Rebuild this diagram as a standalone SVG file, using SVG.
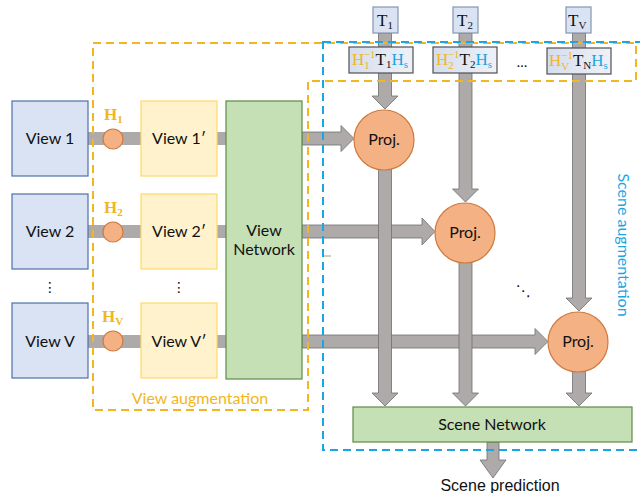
<svg xmlns="http://www.w3.org/2000/svg" width="640" height="493" viewBox="0 0 640 493">
  <defs>
    <linearGradient id="fgrad" x1="0" y1="0" x2="1" y2="0">
      <stop offset="0" stop-color="#D5DDEE"/>
      <stop offset="1" stop-color="#EEF1F7"/>
    </linearGradient>
  </defs>
  <style>
    .lbl { font-family: Lato, "Open Sans", sans-serif; font-size: 16px; fill: #111; text-anchor: middle; }
    .math { font-family: "Liberation Serif", "DejaVu Serif", serif; font-size: 17px; }
    .view { fill: #DAE3F3; stroke: #4F71A8; stroke-width: 1.2; }
    .aug { fill: #FFF2CC; stroke: #FFD966; stroke-width: 1.2; }
    .net { fill: #C5E0B4; stroke: #5E8A48; stroke-width: 1.2; }
    .bar { fill: #AEAAAA; stroke: #6F6F6F; stroke-width: 0.8; }
    .flat { fill: #AEAAAA; }
    .proj { fill: #F4B183; stroke: #CF7A3F; stroke-width: 1.2; }
    .h { fill: #F4B183; stroke: #CF7A3F; stroke-width: 1.2; }
    .tbox { fill: #DAE3F3; stroke: #8497B0; stroke-width: 1.2; }
    .fbox { fill: url(#fgrad); stroke: #505050; stroke-width: 1.2; }
    .gold { fill: #F2B620; }
    .blue { fill: #1AA6E3; }
    .dashY { fill: none; stroke: #F2B620; stroke-width: 2; stroke-dasharray: 8 5; }
    .dashB { fill: none; stroke: #1AA6E3; stroke-width: 2; stroke-dasharray: 8 5; }
  </style>

  <!-- plain bars from each view through the augmentation into the view network -->
  <g id="view-bars">
    <rect class="flat" x="88" y="132" width="140" height="13"/>
    <rect class="flat" x="88" y="225" width="140" height="13"/>
    <rect class="flat" x="88" y="335" width="140" height="13"/>
  </g>

  <!-- connectors: view features to projections, transforms down to projections, projections to scene network -->
  <g id="connectors">
    <polygon class="bar" points="302,132 341,132 341,125.5 354,138.5 341,151.5 341,145 302,145"/>
    <polygon class="bar" points="302,225 422,225 422,218 435,231.5 422,245 422,238 302,238"/>
    <polygon class="bar" points="302,335 535,335 535,328.5 548,341.5 535,354.5 535,348 302,348"/>

    <polygon class="bar" points="378.5,33 391.5,33 391.5,96 398,96 385,109 372,96 378.5,96"/>
    <polygon class="bar" points="459,33 472,33 472,189 478.5,189 465.5,202 452.5,189 459,189"/>
    <polygon class="bar" points="572.5,33 585.5,33 585.5,298 592,298 579,311 566,298 572.5,298"/>

    <polygon class="bar" points="378.5,168 391.5,168 391.5,393 398,393 385,406 372,393 378.5,393"/>
    <polygon class="bar" points="459,262 472,262 472,393 478.5,393 465.5,406 452.5,393 459,393"/>
    <polygon class="bar" points="572.5,371 585.5,371 585.5,393 592,393 579,406 566,393 572.5,393"/>

    <polygon class="bar" points="487,442 499,442 499,460 506,460 493,478 480,460 487,460"/>
    <line x1="324" y1="256" x2="331" y2="256" stroke="#8A8A50" stroke-width="0.8"/>
  </g>

  <g id="view1">
    <rect class="view" x="12" y="101" width="76" height="75"/>
    <text class="lbl" x="50" y="144">View 1</text>
  </g>
  <g id="view2">
    <rect class="view" x="12" y="194" width="76" height="75"/>
    <text class="lbl" x="50" y="237">View 2</text>
  </g>
  <g id="viewV">
    <rect class="view" x="12" y="303" width="76" height="75"/>
    <text class="lbl" x="50" y="347">View V</text>
  </g>
  <text x="50" y="292" font-family="DejaVu Sans, sans-serif" font-size="14" text-anchor="middle" fill="#111">⋮</text>

  <g id="h1">
    <circle class="h" cx="113" cy="139" r="10"/>
    <text class="math gold" x="104" y="120" font-weight="bold">H<tspan font-size="11" dy="3">1</tspan></text>
  </g>
  <g id="h2">
    <circle class="h" cx="113" cy="232" r="10"/>
    <text class="math gold" x="104" y="213" font-weight="bold">H<tspan font-size="11" dy="3">2</tspan></text>
  </g>
  <g id="hV">
    <circle class="h" cx="113" cy="341" r="10"/>
    <text class="math gold" x="102" y="322" font-weight="bold">H<tspan font-size="11" dy="3">V</tspan></text>
  </g>

  <g id="view1p">
    <rect class="aug" x="141" y="101" width="76" height="75"/>
    <text class="lbl" x="179" y="144">View 1′</text>
  </g>
  <g id="view2p">
    <rect class="aug" x="141" y="194" width="76" height="75"/>
    <text class="lbl" x="179" y="237">View 2′</text>
  </g>
  <g id="viewVp">
    <rect class="aug" x="141" y="303" width="76" height="75"/>
    <text class="lbl" x="179" y="347">View V′</text>
  </g>
  <text x="179" y="292" font-family="DejaVu Sans, sans-serif" font-size="14" text-anchor="middle" fill="#111">⋮</text>

  <g id="view-network">
    <rect class="net" x="226" y="101" width="76" height="278"/>
    <text class="lbl" x="264" y="236">View</text>
    <text class="lbl" x="264" y="255">Network</text>
  </g>

  <g id="t1">
    <rect class="tbox" x="373" y="7" width="25" height="26"/>
    <text class="math" x="377" y="26" fill="#111">T<tspan font-size="11" dy="3">1</tspan></text>
  </g>
  <g id="t2">
    <rect class="tbox" x="453" y="7" width="25" height="26"/>
    <text class="math" x="457" y="26" fill="#111">T<tspan font-size="11" dy="3">2</tspan></text>
  </g>
  <g id="tV">
    <rect class="tbox" x="566" y="7" width="25" height="26"/>
    <text class="math" x="568" y="26" fill="#111">T<tspan font-size="11" dy="3">V</tspan></text>
  </g>

  <g id="f1">
    <rect class="fbox" x="349" y="47" width="64" height="26"/>
    <text class="math" x="352" y="65"><tspan class="gold">H</tspan><tspan class="gold" font-size="11" dy="4">1</tspan><tspan class="gold" font-size="11" dx="-6" dy="-11">−1</tspan><tspan fill="#111" dy="7">T</tspan><tspan fill="#111" font-size="11" dy="3">1</tspan><tspan class="blue" dy="-3">H</tspan><tspan class="blue" font-size="11" dy="3">s</tspan></text>
  </g>
  <g id="f2">
    <rect class="fbox" x="433" y="47" width="64" height="26"/>
    <text class="math" x="436" y="65"><tspan class="gold">H</tspan><tspan class="gold" font-size="11" dy="4">2</tspan><tspan class="gold" font-size="11" dx="-6" dy="-11">−1</tspan><tspan fill="#111" dy="7">T</tspan><tspan fill="#111" font-size="11" dy="3">2</tspan><tspan class="blue" dy="-3">H</tspan><tspan class="blue" font-size="11" dy="3">s</tspan></text>
  </g>
  <text x="522" y="67" font-family="Lato, sans-serif" font-size="14" text-anchor="middle" fill="#111">…</text>
  <g id="fV">
    <rect class="fbox" x="547" y="48" width="64" height="26"/>
    <text class="math" x="549" y="66"><tspan class="gold">H</tspan><tspan class="gold" font-size="11" dy="4">V</tspan><tspan class="gold" font-size="11" dx="-8" dy="-11">−1</tspan><tspan fill="#111" dy="7">T</tspan><tspan fill="#111" font-size="11" dy="3">N</tspan><tspan class="blue" dy="-3">H</tspan><tspan class="blue" font-size="11" dy="3">s</tspan></text>
  </g>

  <g id="proj1">
    <circle class="proj" cx="384" cy="140" r="30"/>
    <text class="lbl" x="384" y="145">Proj.</text>
  </g>
  <g id="proj2">
    <circle class="proj" cx="465" cy="233" r="30"/>
    <text class="lbl" x="465" y="238">Proj.</text>
  </g>
  <g id="proj3">
    <circle class="proj" cx="578" cy="342" r="30"/>
    <text class="lbl" x="578" y="347">Proj.</text>
  </g>
  <text x="523" y="296" font-family="DejaVu Sans, sans-serif" font-size="15" text-anchor="middle" fill="#111">⋱</text>

  <g id="scene-network">
    <rect class="net" x="353" y="407" width="279" height="35"/>
    <text class="lbl" x="492" y="430">Scene Network</text>
  </g>

  <g id="augmentation-regions">
    <path class="dashY" d="M93,43 H636 V81 H308 V410 H93 Z"/>
    <rect class="dashB" x="323" y="42" width="330" height="408"/>
    <text x="200" y="404" font-family="Lato, sans-serif" font-size="16" text-anchor="middle" fill="#F2B620">View augmentation</text>
    <text transform="translate(618,245) rotate(90)" font-family="Lato, sans-serif" font-size="16" text-anchor="middle" fill="#1AA6E3">Scene augmentation</text>
  </g>

  <text x="500" y="491" font-family="Liberation Sans, Arial, sans-serif" font-size="16" text-anchor="middle" fill="#111">Scene prediction</text>
</svg>
